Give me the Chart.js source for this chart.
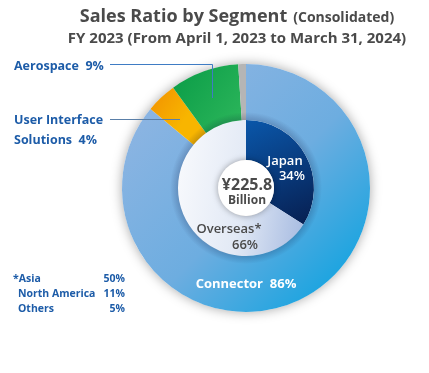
<!DOCTYPE html>
<html><head><meta charset="utf-8">
<script src="https://cdn.jsdelivr.net/npm/chart.js@4/dist/chart.umd.min.js"></script>
<style>html,body{margin:0;padding:0;background:#fff}canvas{display:block}</style>
</head><body>
<canvas id="c" width="429" height="373"></canvas>
<script>
// ---- data ----
const segments = ['Connector', 'User Interface Solutions', 'Aerospace', 'Others'];
const segmentShares = [86, 4, 9, 1];
const regions = ['Japan', 'Overseas'];
const regionShares = [34, 66];
const overseasLabels = ['*Asia', 'North America', 'Others'];
const overseasShares = [50, 11, 5];
const totalSales = '¥225.8';
const totalUnit = 'Billion';
const titleMain = 'Sales Ratio by Segment';
const titleSub = '(Consolidated)';
const subtitle = 'FY 2023 (From April 1, 2023 to March 31, 2024)';

const FONT = '"Open Sans", "Noto Sans", sans-serif';
const BLUE = '#1d5ca8';

function segColor(ctx) {
  const chart = ctx.chart, ca = chart.chartArea;
  if (!ca) return '#888';
  const c = chart.ctx;
  const cx = (ca.left + ca.right) / 2, cy = (ca.top + ca.bottom) / 2;
  const i = ctx.dataIndex;
  let g;
  if (i === 0) {
    g = c.createLinearGradient(ca.left + 40, ca.top + 40, ca.right - 20, ca.bottom - 20);
    g.addColorStop(0, '#8ab4e2'); g.addColorStop(0.5, '#6dade0'); g.addColorStop(1, '#0fa3e0');
    return g;
  }
  if (i === 1) {
    g = c.createLinearGradient(cx - 115, cy - 85, cx - 70, cy - 55);
    g.addColorStop(0, '#f08a00'); g.addColorStop(1, '#f8b500');
    return g;
  }
  if (i === 2) {
    g = c.createLinearGradient(cx - 80, cy - 110, cx - 10, cy - 60);
    g.addColorStop(0, '#0a9c47'); g.addColorStop(1, '#2bb55a');
    return g;
  }
  return '#b5b5b5';
}
function regColor(ctx) {
  const chart = ctx.chart, ca = chart.chartArea;
  if (!ca) return '#888';
  const c = chart.ctx;
  const cx = (ca.left + ca.right) / 2, cy = (ca.top + ca.bottom) / 2;
  let g;
  if (ctx.dataIndex === 0) {
    g = c.createLinearGradient(cx, cy - 68, cx + 50, cy + 50);
    g.addColorStop(0, '#0a57aa'); g.addColorStop(1, '#071c4c');
    return g;
  }
  g = c.createLinearGradient(cx - 68, cy, cx + 60, cy + 20);
  g.addColorStop(0, '#f6f8fc'); g.addColorStop(0.5, '#e2e9f5'); g.addColorStop(1, '#a9bde2');
  return g;
}

const decor = {
  id: 'decor',
  beforeDatasetsDraw(chart) {
    const ca = chart.chartArea, c = chart.ctx;
    const cx = (ca.left + ca.right) / 2, cy = (ca.top + ca.bottom) / 2;
    const R = chart.getDatasetMeta(0).controller.outerRadius;
    c.save();
    c.shadowColor = 'rgba(0,0,0,0.35)';
    c.shadowBlur = 12;
    c.fillStyle = '#fff';
    c.beginPath(); c.arc(cx, cy, R, 0, Math.PI * 2); c.fill();
    c.restore();
  },
  afterDatasetsDraw(chart) {
    const ca = chart.chartArea, c = chart.ctx;
    const cx = (ca.left + ca.right) / 2, cy = (ca.top + ca.bottom) / 2;
    const r1 = chart.getDatasetMeta(1).controller.outerRadius;
    const r0 = chart.getDatasetMeta(1).controller.innerRadius;
    const rg = c.createRadialGradient(cx, cy, r1, cx, cy, r1 + 8);
    rg.addColorStop(0, 'rgba(0,0,40,0.18)'); rg.addColorStop(1, 'rgba(0,0,40,0)');
    c.save();
    c.fillStyle = rg;
    c.beginPath(); c.arc(cx, cy, r1 + 8, 0, Math.PI * 2); c.arc(cx, cy, r1, 0, Math.PI * 2, true); c.fill();
    c.restore();
    c.save();
    c.shadowColor = 'rgba(0,0,0,0.35)';
    c.shadowBlur = 6;
    c.fillStyle = '#fff';
    c.beginPath(); c.arc(cx, cy, r0, 0, Math.PI * 2); c.fill();
    c.restore();
  },
  afterDraw(chart) {
    const ca = chart.chartArea, c = chart.ctx;
    const cx = (ca.left + ca.right) / 2, cy = (ca.top + ca.bottom) / 2;
    c.save();
    c.textBaseline = 'alphabetic';
    c.fillStyle = '#4a4a4a';
    c.font = 'bold 18px ' + FONT;
    const w1 = c.measureText(titleMain).width;
    c.font = 'bold 14px ' + FONT;
    const w2 = c.measureText(titleSub).width;
    const tx = 237 - (w1 + 6 + w2) / 2;
    c.textAlign = 'left';
    c.font = 'bold 18px ' + FONT;
    c.fillText(titleMain, tx, 22);
    c.font = 'bold 14px ' + FONT;
    c.fillText(titleSub, tx + w1 + 6, 22);
    c.font = 'bold 15px ' + FONT;
    c.textAlign = 'center';
    c.fillText(subtitle, 237, 43);

    c.fillStyle = BLUE;
    c.textAlign = 'left';
    c.font = 'bold 12.5px ' + FONT;
    c.fillText('Aerospace  ' + segmentShares[2] + '%', 14, 70);
    c.fillText('User Interface', 14, 124);
    c.fillText('Solutions  ' + segmentShares[1] + '%', 14, 144);

    c.strokeStyle = '#3f7cc4'; c.lineWidth = 1;
    c.beginPath();
    c.moveTo(110, 64.5); c.lineTo(212.5, 64.5); c.lineTo(212.5, 98);
    c.stroke();
    c.strokeStyle = '#5a7fa8';
    c.beginPath(); c.moveTo(110, 119.5); c.lineTo(180, 119.5); c.stroke();

    c.font = 'bold 10.5px ' + FONT;
    const fy = [282, 297, 312];
    const fx = [13, 18, 18];
    for (let i = 0; i < overseasLabels.length; i++) {
      c.textAlign = 'left';
      c.fillText(overseasLabels[i], fx[i], fy[i]);
      c.textAlign = 'right';
      c.fillText(overseasShares[i] + '%', 125, fy[i]);
    }

    c.fillStyle = '#ffffff';
    c.textAlign = 'center';
    c.font = 'bold 13px ' + FONT;
    c.fillText(segments[0] + '  ' + segmentShares[0] + '%', cx, cy + 100);

    c.font = '600 13px ' + FONT;
    c.textAlign = 'center';
    c.fillText(regions[0], cx + 39, cy - 23);
    c.textAlign = 'right';
    c.fillText(regionShares[0] + '%', cx + 59, cy - 8);

    c.fillStyle = '#4a4a4a';
    c.textAlign = 'center';
    c.fillText(regions[1] + '*', cx - 17, cy + 45);
    c.fillText(regionShares[1] + '%', cx - 1, cy + 61);

    c.fillStyle = '#4a4a4a';
    c.font = 'bold 16px ' + FONT;
    c.fillText(totalSales, cx + 1, cy + 2);
    c.font = 'bold 12px ' + FONT;
    c.fillText(totalUnit, cx + 1, cy + 16);
    c.restore();
  }
};

new Chart(document.getElementById('c'), {
  type: 'doughnut',
  data: {
    labels: segments,
    datasets: [
      { data: segmentShares, backgroundColor: segColor, borderWidth: 0, weight: 56 },
      { data: regionShares, backgroundColor: regColor, borderWidth: 0, weight: 40 }
    ]
  },
  options: {
    responsive: false,
    animation: false,
    cutout: 28,
    hoverOffset: 0,
    offset: 0,
    layout: { padding: { left: 122, right: 59, top: 64, bottom: 61 } },
    plugins: { legend: { display: false }, tooltip: { enabled: false }, title: { display: false } },
    events: []
  },
  plugins: [decor]
});
</script>
</body></html>
